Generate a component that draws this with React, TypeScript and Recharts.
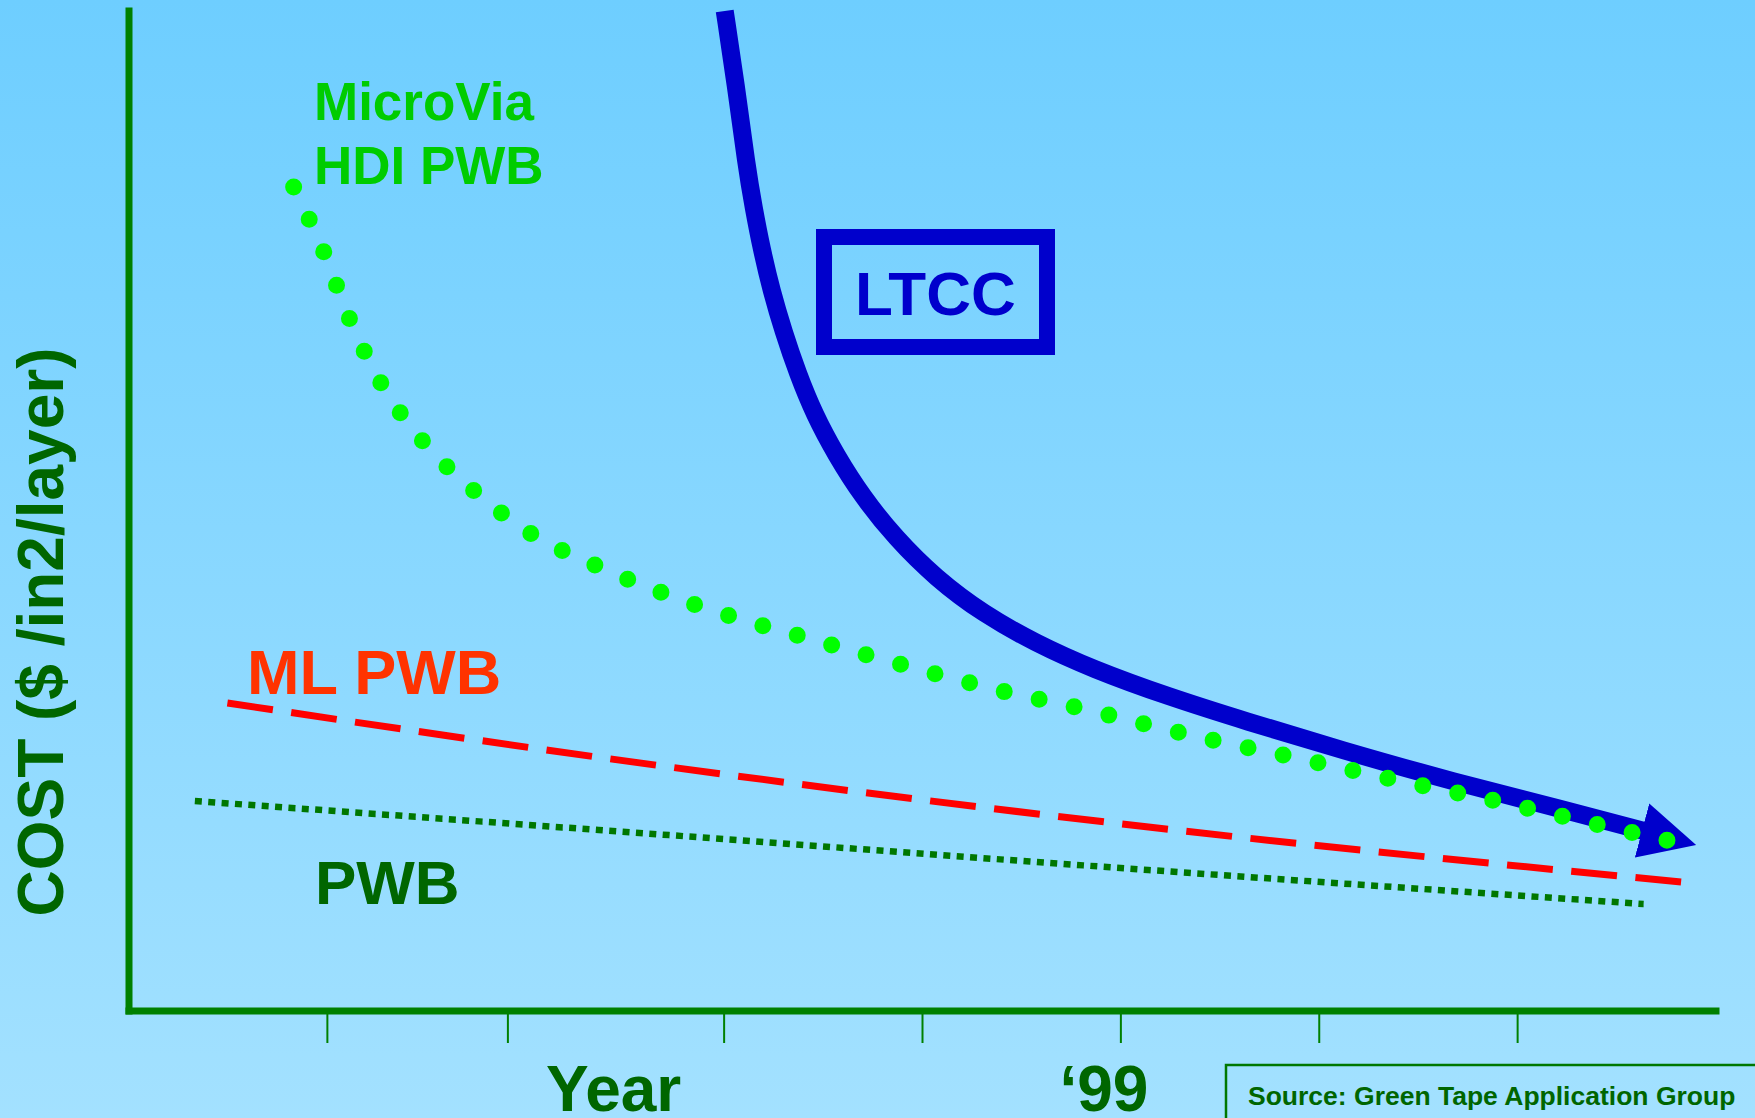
import { LineChart, Line, XAxis, YAxis, ReferenceLine } from 'recharts';

// x = year ('94 .. '02), y = relative cost (0..100)
const LTCC_YEAR = [97.003, 97.058, 97.113, 97.149, 97.189, 97.239, 97.3, 97.37, 97.456, 97.564, 97.698, 97.864, 98.066, 98.307, 98.569, 98.856, 99.244, 99.627, 100.111, 100.68, 101.239, 101.637];
const LTCC_COST = [100, 92.8, 84.5, 80.3, 76.2, 72.0, 67.9, 63.8, 59.6, 55.6, 51.4, 47.3, 43.3, 39.7, 36.8, 34.2, 31.4, 29.0, 26.1, 22.9, 20.1, 18.0];

const MICROVIA_YEAR = [94.83, 94.98, 95.11, 95.27, 95.48, 95.74, 96.03, 96.36, 96.69, 97.03, 97.38, 97.72, 98.07, 98.42, 98.77, 99.12, 99.48, 99.83, 100.18, 100.53, 100.89, 101.24, 101.59, 101.77];
const MICROVIA_COST = [82.4, 76.0, 69.3, 62.8, 57.0, 52.0, 47.7, 44.5, 41.8, 39.5, 37.5, 35.6, 33.7, 31.9, 30.4, 28.7, 27.0, 25.55, 24.0, 22.5, 21.0, 19.4, 17.8, 17.0];

const MLPWB_YEAR = [94.496, 96.358, 99.139, 101.824];
const MLPWB_COST = [30.8, 25.4, 18.4, 12.9];

const PWB_YEAR = [94.332, 96.368, 99.139, 101.635];
const PWB_COST = [21.0, 18.1, 14.1, 10.7];

const XTICKS = [95, 95.91, 97, 98, 99, 100, 101];
const XTICK_LABELS = ['', '', '', '', '\u201899', '', ''];

const FONT = '"Liberation Sans", Arial, Helvetica, sans-serif';

function zip(xs: number[], ys: number[]) {
  return xs.map((x, i) => ({ x, y: ys[i] }));
}

const ltcc = zip(LTCC_YEAR, LTCC_COST);
const microVia = zip(MICROVIA_YEAR, MICROVIA_COST);
const mlPwb = zip(MLPWB_YEAR, MLPWB_COST);
const pwb = zip(PWB_YEAR, PWB_COST);

function YearTick(props: any) {
  const { x, y, index } = props;
  const label = XTICK_LABELS[index] ?? '';
  if (!label) return <g />;
  return (
    <text x={x - 17} y={y + 66} textAnchor="middle" fill="#006600" fontSize={64} fontWeight="bold" fontFamily={FONT}>
      {label}
    </text>
  );
}

export default function App() {
  return (
    <div
      style={{
        position: 'absolute',
        left: 0,
        top: 0,
        width: 1755,
        height: 1118,
        overflow: 'hidden',
        background: 'linear-gradient(#6ECEFF, #A3E1FF)',
        fontFamily: FONT,
      }}
    >
      {/* arrow head for the LTCC curve */}
      <svg width={0} height={0} style={{ position: 'absolute' }}>
        <defs>
          <marker
            id="ltccArrow"
            markerUnits="userSpaceOnUse"
            viewBox="0 0 56 56"
            markerWidth={56}
            markerHeight={56}
            refX={2}
            refY={28}
            orient="auto"
          >
            <path d="M0,0 L56,28 L0,56 Z" fill="#0000CC" />
          </marker>
        </defs>
      </svg>

      <LineChart width={1755} height={1118} margin={{ top: 11, right: 39, left: 129, bottom: 47 }}>
        <XAxis
          type="number"
          dataKey="x"
          domain={[94, 102]}
          ticks={XTICKS}
          interval={0}
          height={60}
          tickSize={32}
          axisLine={{ stroke: '#008000', strokeWidth: 7, strokeLinecap: 'square' }}
          tickLine={{ stroke: '#008000', strokeWidth: 2 }}
          tick={<YearTick />}
        />
        <YAxis type="number" dataKey="y" domain={[0, 100]} hide />
        <ReferenceLine x={94} stroke="#008000" strokeWidth={7} strokeLinecap="square" />
        <Line
          data={mlPwb}
          dataKey="y"
          type="monotone"
          stroke="#FF0000"
          strokeWidth={7}
          strokeDasharray="46 18.5"
          dot={false}
          activeDot={false}
          isAnimationActive={false}
        />
        <Line
          data={pwb}
          dataKey="y"
          type="monotone"
          stroke="#007700"
          strokeWidth={6.5}
          strokeDasharray="7 6.4"
          dot={false}
          activeDot={false}
          isAnimationActive={false}
        />
        <Line
          data={ltcc}
          dataKey="y"
          type="basis"
          stroke="#0000CC"
          strokeWidth={18}
          markerEnd="url(#ltccArrow)"
          dot={false}
          activeDot={false}
          isAnimationActive={false}
        />
        <Line
          data={microVia}
          dataKey="y"
          type="monotone"
          stroke="#00FF00"
          strokeWidth={17}
          strokeLinecap="round"
          strokeDasharray="0 35.75"
          dot={false}
          activeDot={false}
          isAnimationActive={false}
        />
      </LineChart>

      {/* annotations */}
      <svg width={1755} height={1118} style={{ position: 'absolute', left: 0, top: 0, pointerEvents: 'none' }}>
        <g fontFamily={FONT} fontWeight="bold">
          <text x={314} y={120} fontSize={53} fill="#00CC00">MicroVia</text>
          <text x={314} y={184} fontSize={53} fill="#00CC00">HDI PWB</text>
          <text x={247} y={694} fontSize={63} fill="#FF3300">ML PWB</text>
          <text x={315} y={904} fontSize={62} fill="#006600">PWB</text>
          <rect x={824} y={237} width={223} height={110} fill="none" stroke="#0000CC" strokeWidth={16} />
          <text x={855} y={315} fontSize={62} fill="#0000CC">LTCC</text>
          <text x={546} y={1111} fontSize={64} fill="#006600">Year</text>
          <text
            transform="translate(63,632) rotate(-90)"
            textAnchor="middle"
            fontSize={64}
            fill="#006600"
          >
            COST ($ /in2/layer)
          </text>
          <rect x={1226} y={1065} width={600} height={100} fill="none" stroke="#007700" strokeWidth={2.5} />
          <text x={1248} y={1105} fontSize={26.5} fill="#006600">Source: Green Tape Application Group</text>
        </g>
      </svg>
    </div>
  );
}
